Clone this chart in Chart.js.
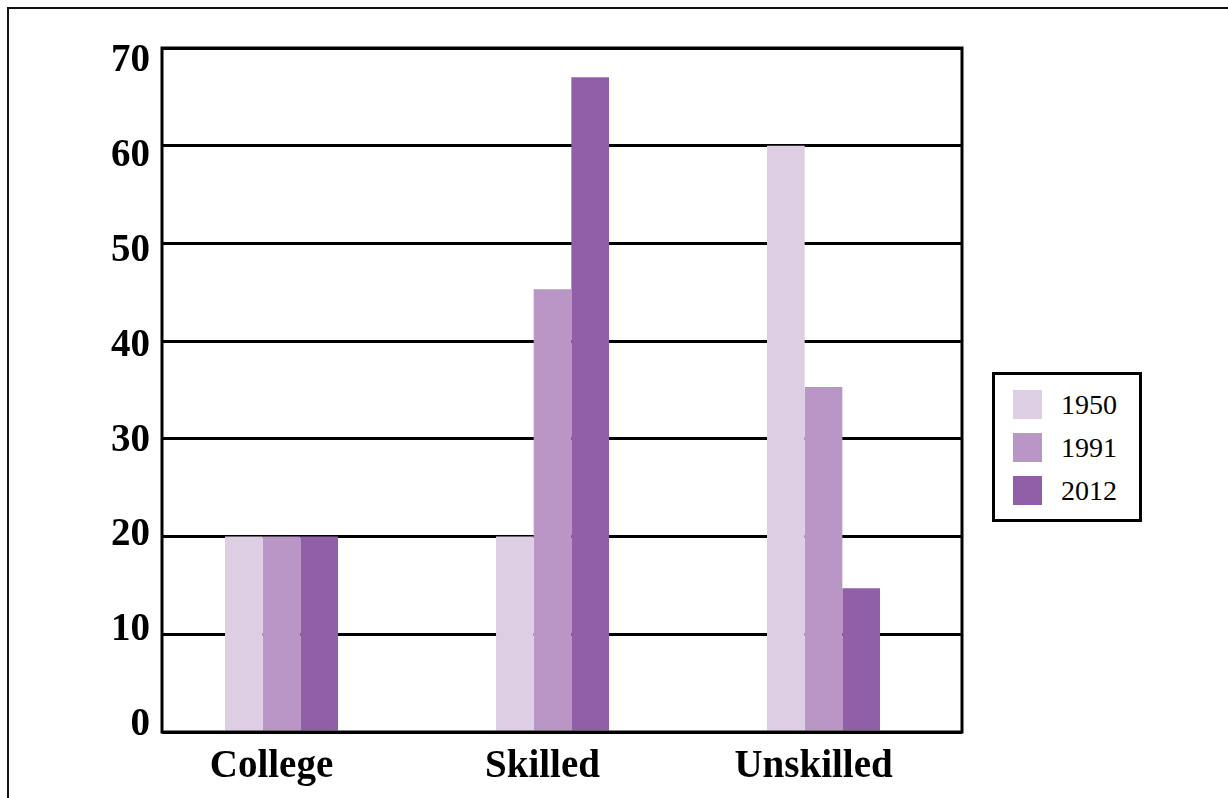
<!DOCTYPE html>
<html>
<head>
<meta charset="utf-8">
<script src="https://cdn.jsdelivr.net/npm/chart.js@4.4.1/dist/chart.umd.min.js"></script>
<style>
  html, body { margin: 0; padding: 0; background: #fff; overflow: hidden; }
  #wrap { position: relative; width: 1228px; height: 798px; overflow: hidden; }
  #outer { position: absolute; left: 7px; top: 7px; width: 1400px; height: 1000px;
           border-left: 2px solid #111; border-top: 2px solid #111; }
  #cv { position: absolute; left: 0; top: 0; }
  #legend { position: absolute; left: 992px; top: 372px; width: 144px; height: 144px;
            border: 3px solid #000; background: #fff; font-family: "Liberation Serif", serif;
            font-size: 28px; color: #000; box-sizing: content-box; }
  .item { position: absolute; left: 18px; height: 29px; display: flex; align-items: center; }
  .sw { width: 29px; height: 29px; margin-right: 19px; }
</style>
</head>
<body>
<div id="wrap">
  <div id="outer"></div>
  <canvas id="cv" width="1228" height="798"></canvas>
  <div id="legend"></div>
</div>
<script>
const categories = ["College", "Skilled", "Unskilled"];
const seriesNames = ["1950", "1991", "2012"];
const values1950 = [20, 20, 60];
const values1991 = [20, 45.3, 35.3];
const values2012 = [20, 67, 14.7];
const seriesColors = ["#DDCEE4", "#BA96C6", "#915EA8"];
const yTicks = [0, 10, 20, 30, 40, 50, 60, 70];

const allValues = [values1950, values1991, values2012];
const datasets = seriesNames.map((name, k) => ({
  label: name,
  data: categories.map((c, i) => ({ x: i, y: allValues[k][i] })),
  backgroundColor: seriesColors[k],
  borderWidth: 0,
  categoryPercentage: 0.417,
  barPercentage: 1.0
}));

const frame = {
  id: 'frame',
  afterDatasetsDraw(chart) {
    const a = chart.chartArea, ctx = chart.ctx;
    ctx.save();
    ctx.strokeStyle = '#000';
    ctx.lineWidth = 3;
    ctx.strokeRect(a.left, a.top, a.right - a.left, a.bottom - a.top);
    ctx.restore();
  }
};

const fontBig = { family: "'Liberation Serif', serif", size: 39, weight: 'bold' };

new Chart(document.getElementById('cv'), {
  type: 'bar',
  data: { datasets },
  plugins: [frame],
  options: {
    responsive: false,
    animation: false,
    devicePixelRatio: 1,
    layout: { padding: { left: 0, right: 266, top: 48, bottom: 0 } },
    plugins: { legend: { display: false }, tooltip: { enabled: false } },
    scales: {
      x: {
        type: 'linear',
        min: -0.441, max: 2.511,
        offset: false,
        grid: { display: false, offset: false },
        border: { display: false },
        ticks: {
          stepSize: 1, includeBounds: false, autoSkip: false, maxRotation: 0,
          padding: 4, labelOffset: -10, color: '#000', font: fontBig,
          callback: (v) => Number.isInteger(v) && categories[v] !== undefined ? categories[v] : ''
        },
        afterFit: (s) => { s.height = 66; }
      },
      y: {
        min: 0, max: 70,
        position: 'left',
        grid: { color: '#000', lineWidth: 3, drawTicks: false },
        border: { display: false },
        ticks: { display: false, stepSize: 10 },
        afterFit: (s) => { s.width = 0; }
      },
      yl: {
        type: 'linear',
        position: 'left',
        min: -0.73, max: 71.37,
        grid: { display: false, drawTicks: false },
        border: { display: false },
        afterBuildTicks: (s) => { s.ticks = yTicks.map(v => ({ value: v })); },
        ticks: { padding: 12, color: '#000', font: fontBig },
        afterFit: (s) => { s.width = 162; }
      }
    }
  }
});

const leg = document.getElementById('legend');
seriesNames.forEach((name, k) => {
  const it = document.createElement('div');
  it.className = 'item';
  it.style.top = (15 + k * 43) + 'px';
  const sw = document.createElement('div');
  sw.className = 'sw';
  sw.style.background = seriesColors[k];
  const tx = document.createElement('span');
  tx.textContent = name;
  it.appendChild(sw); it.appendChild(tx);
  leg.appendChild(it);
});
</script>
</body>
</html>
